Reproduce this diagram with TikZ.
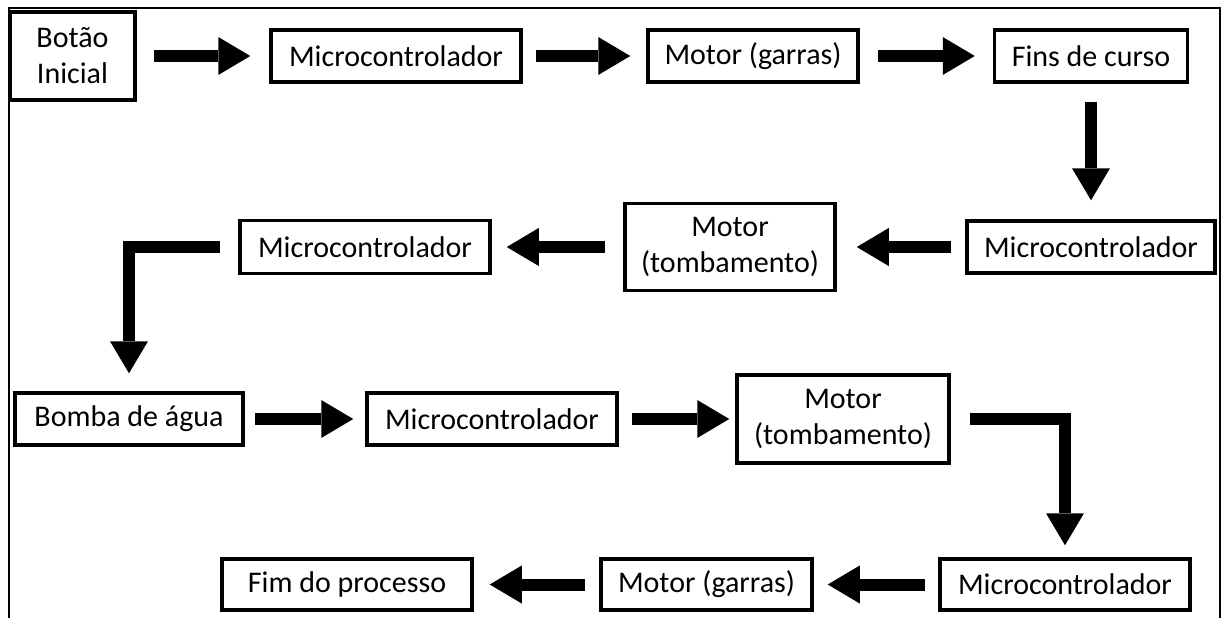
\documentclass[tikz,border=0pt]{standalone}
\usepackage{fontspec}
\setmainfont{Carlito}
\usetikzlibrary{arrows.meta}
\begin{document}
\begin{tikzpicture}[x=1pt,y=-1pt,
  box/.style={draw, line width=3.5pt, fill=white, inner sep=0pt, font=\fontsize{30}{36}\selectfont, align=center},
  arr/.style={line width=12pt, line cap=butt, line join=miter, -{Triangle[length=32pt,width=38pt,line width=0pt]}},
  framestyle/.style={line width=2pt}]
\useasboundingbox (0,0) rectangle (1223,618);
\draw[framestyle] (9,640) -- (9,8) -- (1220,8) -- (1220,640);
% row 1
\node[box, minimum width=125pt, minimum height=88pt] (b1) at (72.5,56) {Botão\\Inicial};
\node[box, minimum width=250pt, minimum height=52pt] (m1) at (396,56) {Microcontrolador};
\node[box, minimum width=210pt, minimum height=52pt] (g1) at (753,56) {Motor (garras)};
\node[box, minimum width=193pt, minimum height=52pt] (f1) at (1091,56) {Fins de curso};
% row 2
\node[box, minimum width=248pt, minimum height=52pt] (m2) at (1091,247) {Microcontrolador};
\node[box, minimum width=210pt, minimum height=87pt] (t2) at (730,247) {Motor\\(tombamento)};
\node[box, minimum width=250pt, minimum height=53pt] (m2b) at (365,247) {Microcontrolador};
% row 3
\node[box, minimum width=228pt, minimum height=52pt] (ba) at (129,419) {Bomba de água};
\node[box, minimum width=250pt, minimum height=52pt] (m3) at (492,419) {Microcontrolador};
\node[box, minimum width=212pt, minimum height=88pt] (t3) at (843,419) {Motor\\(tombamento)};
% row 4
\node[box, minimum width=250pt, minimum height=51pt] (m4) at (1065,584.5) {Microcontrolador};
\node[box, minimum width=211pt, minimum height=51pt] (g4) at (706.5,584.5) {Motor (garras)};
\node[box, minimum width=250pt, minimum height=51pt] (e4) at (347,584.5) {Fim do processo};
% arrows
\draw[arr] ([xshift=17pt]b1.east) -- ([xshift=-19pt]m1.west);
\draw[arr] ([xshift=13pt]m1.east) -- ([xshift=-16pt]g1.west);
\draw[arr] ([xshift=18pt]g1.east) -- ([xshift=-18pt]f1.west);
\draw[arr] ([yshift=-18pt]f1.south) -- ([yshift=19pt]m2.north);
\draw[arr] ([xshift=-14pt]m2.west) -- ([xshift=20pt]t2.east);
\draw[arr] ([xshift=-18pt]t2.west) -- ([xshift=15pt]m2b.east);
\draw[arr] ([xshift=-18pt]m2b.west) -| ([yshift=18pt]ba.north);
\draw[arr] ([xshift=10pt]ba.east) -- ([xshift=-12pt]m3.west);
\draw[arr] ([xshift=13pt]m3.east) -- ([xshift=-6pt]t3.west);
\draw[arr] ([xshift=19pt]t3.east) -| ([yshift=12pt]m4.north);
\draw[arr] ([xshift=-13pt]m4.west) -- ([xshift=14pt]g4.east);
\draw[arr] ([xshift=-14pt]g4.west) -- ([xshift=16pt]e4.east);
\end{tikzpicture}
\end{document}
